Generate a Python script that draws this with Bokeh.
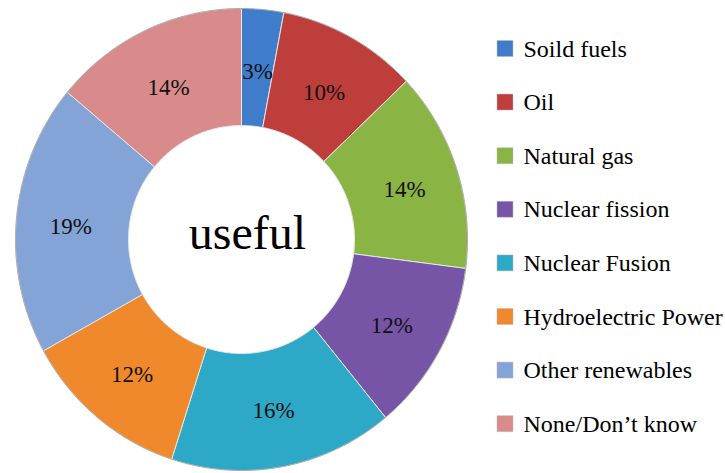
import numpy as np
from bokeh.plotting import figure
from bokeh.models import Range1d, ColumnDataSource
from bokeh.core.properties import value
from bokeh.embed import file_html
from bokeh.resources import INLINE

categories = ["Soild fuels", "Oil", "Natural gas", "Nuclear fission", "Nuclear Fusion",
              "Hydroelectric Power", "Other renewables", "None/Don\u2019t know"]
values = [3, 10, 14, 12, 16, 12, 19, 14]
colors = ["#3F7DCB", "#BE3E3B", "#8AB443", "#7655A6", "#2DA8C6", "#EF892B", "#84A3D6", "#D98B8B"]
center_label = "useful"

FONT = value("'Liberation Serif', 'Times New Roman', serif")

W, H = 725, 473
cx, cy = 241, H - 239
rxo, ryo = 226, 231
rxi, ryi = 113, 114

vals = np.array(values, dtype=float)
frac = vals / vals.sum()
cum_end = np.cumsum(frac)
cum_start = cum_end - frac
start = np.pi / 2 - 2 * np.pi * cum_start
end = np.pi / 2 - 2 * np.pi * cum_end
mid = (start + end) / 2

p = figure(width=W, height=H, x_range=Range1d(0, W), y_range=Range1d(0, H),
           output_backend="svg", toolbar_location=None, min_border=0)
p.axis.visible = False
p.grid.visible = False
p.outline_line_color = None
p.background_fill_color = "white"

xs, ys = [], []
for s, e in zip(start, end):
    t = np.linspace(s, e, 80)
    px = np.concatenate([cx + rxo * np.cos(t), cx + rxi * np.cos(t[::-1])])
    py = np.concatenate([cy + ryo * np.sin(t), cy + ryi * np.sin(t[::-1])])
    xs.append(px.tolist())
    ys.append(py.tolist())
src = ColumnDataSource(dict(xs=xs, ys=ys, color=colors))
p.patches(xs="xs", ys="ys", fill_color="color", line_color="#e6e6e6", line_width=1, source=src)

# thin darker rim on the outer edge
tt = np.linspace(0, 2 * np.pi, 360)
p.line(x=cx + rxo * np.cos(tt), y=cy + ryo * np.sin(tt), line_color="#6b6b6b", line_alpha=0.45, line_width=1)

r_lab = (rxi + rxo) / 2 + 2
lab = ColumnDataSource(dict(x=cx + r_lab * np.cos(mid), y=cy - 3 + r_lab * np.sin(mid),
                            t=[f"{v}%" for v in values]))
p.text(x="x", y="y", text="t", source=lab, text_font=FONT,
       text_font_size="23px", text_align="center", text_baseline="middle", text_color="#111111")

p.text(x=[cx + 6], y=[cy + 7], text=[center_label], text_font=FONT,
       text_font_size="48px", text_align="center", text_baseline="middle", text_color="black")

n = len(categories)
ly = H - (48 + 53.6 * np.arange(n))
leg = ColumnDataSource(dict(x=[504.5] * n, y=ly, tx=[523] * n, t=categories, color=colors))
p.rect(x="x", y="y", width=16, height=16, fill_color="color", line_color="#bbbbbb",
       line_width=0.5, source=leg)
p.text(x="tx", y="y", text="t", source=leg, text_font=FONT,
       text_font_size="24px", text_align="left", text_baseline="middle", text_color="black")

open("out.html", "w").write(file_html(p, INLINE))
